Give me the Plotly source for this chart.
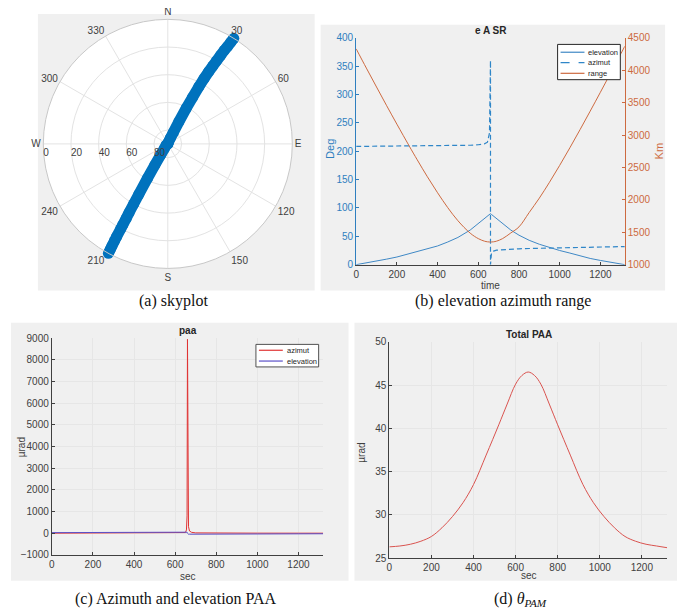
import plotly.graph_objects as go

W, H = 685, 611
def px(x): return x / W
def py(y): return 1 - y / H

# ---------------- data: panel (b) elevation / azimuth / range (also used by skyplot) ----------------
time_s = [0, 50, 100, 150, 200, 261, 300, 350, 400, 450, 500, 560, 600, 630, 645, 655, 660, 660,
          665, 675, 690, 720, 760, 800, 850, 900, 950, 1000, 1050, 1100, 1150, 1200, 1260, 1320]
elevation_deg = [0, 3, 6, 9.8, 13.5, 19.7, 23, 28.3, 33, 40, 48, 61, 72, 81, 85.5, 88.5, 90, 90,
                 88.5, 85.5, 81, 72, 61, 52, 43, 36, 30, 25, 20.5, 15.5, 11, 7.5, 3.5, 0]
azimuth_deg = [208.5, 208.6, 208.7, 208.8, 208.9, 209.0, 209.1, 209.2, 209.4, 209.6, 209.9, 210.6,
               211.5, 213, 216, 232, 360, 0, 21, 24, 25.5, 26.5, 27.3, 28, 28.5, 29, 29.5, 30,
               30.4, 30.8, 31.1, 31.5, 31.8, 32]
range_km = [4330, 4033, 3741, 3452, 3168, 2829, 2618, 2356, 2109, 1880, 1678, 1487, 1402, 1363,
            1353, 1350, 1350, 1350, 1350, 1353, 1363, 1403, 1490, 1583, 1804, 2027, 2272, 2532,
            2803, 3083, 3369, 3660, 4014, 4370]

# ---------------- data: panel (c) paa ----------------
paa_time = [0, 200, 400, 500, 600, 640, 650, 655, 658, 660, 662, 665, 670, 680, 700, 800, 1000, 1200, 1320]
paa_azimut = [0, 0, 1, 2, 4, 10, 30, 150, 800, 8950, 1500, 300, 100, 40, 15, 5, 2, 1, 0]
paa_elevation = [26, 27.5, 33.5, 39.5, 45, 46.3, 46.5, 46.5, 46.5, 0, -46.5, -46.5, -46.4, -46.2, -45.5,
                 -40.4, -30.2, -26.7, -26.2]

# ---------------- data: panel (d) total PAA ----------------
tot_time = [0, 50, 100, 150, 200, 250, 300, 350, 400, 460, 520, 560, 600, 630, 660,
            690, 720, 760, 800, 860, 920, 970, 1020, 1070, 1120, 1170, 1220, 1270, 1320]
tot_paa = [26.3, 26.4, 26.6, 26.95, 27.5, 28.5, 29.8, 31.4, 33.5, 36.9, 40.4, 42.8, 45.1, 46.1, 46.5,
           46.1, 45.1, 42.8, 40.4, 36.9, 33.5, 31.4, 29.8, 28.5, 27.5, 26.95, 26.6, 26.4, 26.2]

# ---------------- labels ----------------
compass_vals = [0, 30, 60, 90, 120, 150, 180, 210, 240, 270, 300, 330]
compass_text = ["N", "30", "60", "E", "120", "150", "S", "210", "240", "W", "300", "330"]
elev_ring_vals = [90, 70, 50, 30, 10]
elev_ring_text = ["0", "20", "40", "60", "80"]
time_ticks = [0, 200, 400, 600, 800, 1000, 1200]

BLUE = "#2f7fbf"
ORANGE = "#cd6a40"
GRAYTXT = "#404040"
FONT = "Liberation Sans, Arial, sans-serif"
SERIF = "Liberation Serif, DejaVu Serif, serif"

C_ELEV_B = "#3f88c5"
C_AZ_B = "#2f86c8"
C_AZ_C = "#e03434"
C_EL_C = "#5a50c8"

fig = go.Figure()

# (a) skyplot
fig.add_trace(go.Scatterpolar(
    r=[90 - e for e in elevation_deg], theta=azimuth_deg, mode="lines+markers",
    line=dict(color="#0072bd", width=11), marker=dict(color="#0072bd", size=11),
    showlegend=False, subplot="polar"))

# (b)
fig.add_trace(go.Scatter(x=time_s, y=elevation_deg, name="elevation", mode="lines",
                         line=dict(color=C_ELEV_B, width=1), xaxis="x", yaxis="y", showlegend=False))
fig.add_trace(go.Scatter(x=time_s, y=azimuth_deg, name="azimut", mode="lines",
                         line=dict(color=C_AZ_B, width=1.2, dash="5px,3px"), xaxis="x", yaxis="y",
                         showlegend=False))
fig.add_trace(go.Scatter(x=time_s, y=range_km, name="range", mode="lines", line_shape="spline",
                         line=dict(color=ORANGE, width=1), xaxis="x", yaxis="y2", showlegend=False))

# (c)
fig.add_trace(go.Scatter(x=paa_time, y=paa_azimut, name="azimut", mode="lines",
                         line=dict(color=C_AZ_C, width=1), xaxis="x2", yaxis="y3", showlegend=False))
fig.add_trace(go.Scatter(x=paa_time, y=paa_elevation, name="elevation", mode="lines",
                         line=dict(color=C_EL_C, width=1), xaxis="x2", yaxis="y3", showlegend=False))

# (d)
fig.add_trace(go.Scatter(x=tot_time, y=tot_paa, mode="lines", line_shape="spline",
                         line=dict(color="#d9534f", width=1), xaxis="x3", yaxis="y4", showlegend=False))

tickfont = dict(family=FONT, size=10, color=GRAYTXT)

def xax(d0, d1, anchor, grid):
    return dict(domain=[px(d0), px(d1)], anchor=anchor, range=[0, 1320], tickvals=time_ticks,
                ticks="inside", ticklen=3, tickcolor="#404040", showline=True, linecolor="#404040",
                linewidth=1, showgrid=grid, gridcolor="#e6e6e6", zeroline=False, tickfont=tickfont)

layout = dict(
    width=W, height=H, margin=dict(l=0, r=0, t=0, b=0),
    paper_bgcolor="white", plot_bgcolor="white",
    font=dict(family=FONT, size=10, color=GRAYTXT),
    showlegend=False,
    polar=dict(
        domain=dict(x=[px(30.5), px(284.5)], y=[py(259.5), py(5.5)]),
        bgcolor="white",
        angularaxis=dict(rotation=90, direction="clockwise", tickvals=compass_vals,
                         ticktext=compass_text, ticks="", showline=True, linecolor="#c8c8c8",
                         gridcolor="#e3e3e3", tickfont=dict(family=FONT, size=10, color=GRAYTXT)),
        radialaxis=dict(range=[0, 90], angle=180, side="counterclockwise", tickangle=180,
                        tickvals=elev_ring_vals, ticktext=elev_ring_text, ticks="", showline=False,
                        gridcolor="#e3e3e3", tickfont=dict(family=FONT, size=10, color=GRAYTXT)),
    ),
    xaxis=xax(346.7, 616.5, "y", False),
    yaxis=dict(domain=[py(255.7), py(24.3)], anchor="x", range=[0, 400], dtick=50,
               ticks="inside", ticklen=3, tickcolor=BLUE, showline=True, linecolor=BLUE,
               showgrid=False, zeroline=False, tickfont=dict(family=FONT, size=10, color=BLUE)),
    yaxis2=dict(overlaying="y", side="right", anchor="x", range=[1000, 4500], dtick=500,
                ticks="inside", ticklen=3, tickcolor=ORANGE, showline=True, linecolor=ORANGE,
                showgrid=False, zeroline=False, tickfont=dict(family=FONT, size=10, color=ORANGE)),
    xaxis2=xax(41, 313.5, "y3", True),
    yaxis3=dict(domain=[py(551.7), py(330.7)], anchor="x2", range=[-1000, 9000], dtick=1000,
                ticks="inside", ticklen=3, tickcolor="#404040", showline=True, linecolor="#404040",
                showgrid=True, gridcolor="#e6e6e6", zeroline=False, tickfont=tickfont),
    xaxis3=xax(380, 659, "y4", True),
    yaxis4=dict(domain=[py(555), py(334.3)], anchor="x3", range=[25, 50], dtick=5,
                ticks="inside", ticklen=3, tickcolor="#404040", showline=True, linecolor="#404040",
                showgrid=True, gridcolor="#e6e6e6", zeroline=False, tickfont=tickfont),
)

# gray panel backgrounds
panels = [(27, 0, 305, 282), (311, 11, 657, 282), (0, 315, 339, 578), (345, 315, 684, 578)]
shapes = [dict(type="rect", xref="paper", yref="paper", x0=px(a), x1=px(c), y0=py(d), y1=py(b),
               fillcolor="#f0f0f0", line=dict(width=0), layer="below") for a, b, c, d in panels]

def ann(text, x, y, size=10, color=GRAYTXT, bold=False, angle=0, family=FONT, xanchor="center"):
    return dict(text=f"<b>{text}</b>" if bold else text, x=px(x), y=py(y), xref="paper", yref="paper",
                showarrow=False, textangle=angle, xanchor=xanchor, yanchor="middle",
                font=dict(family=family, size=size, color=color))

annotations = [
    ann("e A SR", 482, 16.5, size=10, color="#262626", bold=True),
    ann("Deg", 321, 138, size=11, color=BLUE, angle=-90),
    ann("Km", 651, 140, size=11, color=ORANGE, angle=-90),
    ann("time", 482, 276.5, size=10),
    ann("paa", 178, 323, size=10, color="#262626", bold=True),
    ann("µrad", 10, 442, size=10, angle=-90),
    ann("sec", 178, 574, size=10),
    ann("Total PAA", 520, 327, size=10, color="#262626", bold=True),
    ann("µrad", 352, 447, size=10, angle=-90),
    ann("sec", 520, 573, size=10),
    ann("(a) skyplot", 163, 293, size=16, color="#111111", family=SERIF),
    ann("(b) elevation azimuth range", 494, 293, size=16, color="#111111", family=SERIF),
    ann("(c) Azimuth and elevation PAA", 166, 597, size=16, color="#111111", family=SERIF),
    ann("(d) <i>θ</i><sub><i>PAM</i></sub>", 512, 597, size=16, color="#111111", family=SERIF),
]

# compact MATLAB-style legends (box, line samples, labels)
def add_legend(box, rows, entries, border):
    x0, y0, x1, y1 = box
    shapes.append(dict(type="rect", xref="paper", yref="paper", x0=px(x0), x1=px(x1), y0=py(y1), y1=py(y0),
                       fillcolor="white", line=dict(color=border, width=1), layer="above"))
    for (label, color, dash), yy in zip(entries, rows):
        shapes.append(dict(type="line", xref="paper", yref="paper", x0=px(x0 + 3), x1=px(x0 + 27),
                           y0=py(yy), y1=py(yy), line=dict(color=color, width=1.2, dash=dash), layer="above"))
        annotations.append(ann(label, x0 + 29, yy, size=7.5, color="#262626", xanchor="left"))

add_legend((549, 31, 612, 67), [39, 49.5, 60.5],
           [("elevation", C_ELEV_B, "solid"), ("azimut", C_AZ_B, "dash"), ("range", ORANGE, "solid")],
           "#262626")
add_legend((246, 337, 309, 360), [343, 354],
           [("azimut", C_AZ_C, "solid"), ("elevation", C_EL_C, "solid")], "#505050")

layout["shapes"] = shapes
layout["annotations"] = annotations

fig.update_layout(**layout)
fig.write_html("out.html")
